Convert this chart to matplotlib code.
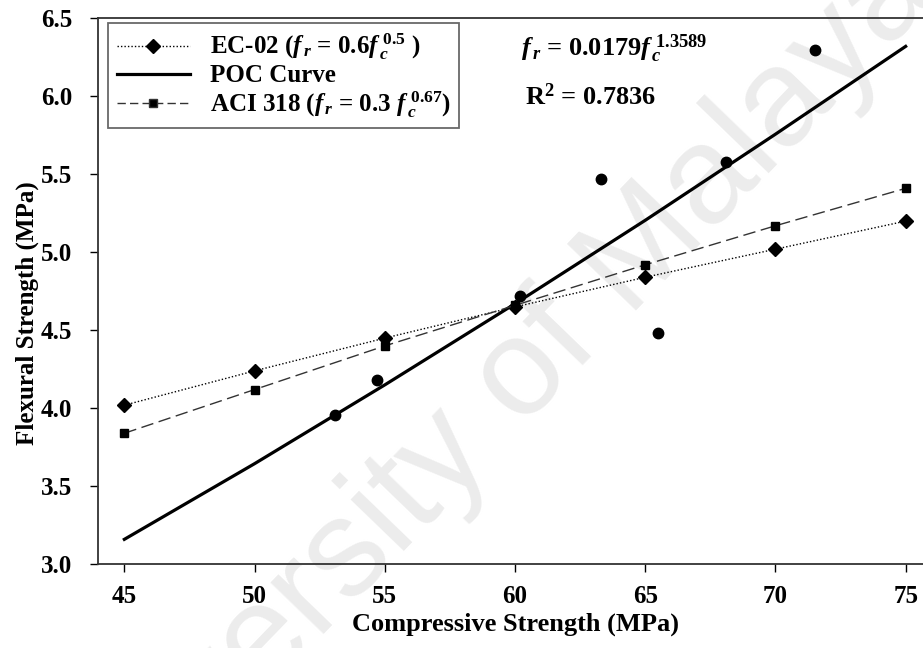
import matplotlib
matplotlib.use("Agg")
import matplotlib.pyplot as plt
from matplotlib.lines import Line2D

plt.rcParams['font.family'] = ['Liberation Serif', 'DejaVu Serif']
plt.rcParams['font.weight'] = 'bold'
plt.rcParams['mathtext.fontset'] = 'custom'
plt.rcParams['mathtext.rm'] = 'Liberation Serif:bold'
plt.rcParams['mathtext.it'] = 'Liberation Serif:bold:italic'
plt.rcParams['mathtext.bf'] = 'Liberation Serif:bold'

# ---- data ----
code_fc = [45, 50, 55, 60, 65, 70, 75]
ec02_fr = [4.02, 4.24, 4.45, 4.65, 4.84, 5.02, 5.20]
aci_fr = [3.84, 4.12, 4.40, 4.66, 4.92, 5.17, 5.41]
poc_curve_fr = [3.16, 3.645, 4.15, 4.67, 5.205, 5.757, 6.32]
test_fc = [53.1, 54.7, 60.2, 63.3, 65.5, 68.1, 71.5]
test_fr = [3.96, 4.18, 4.72, 5.47, 4.48, 5.58, 6.30]
x_ticks = [45, 50, 55, 60, 65, 70, 75]
y_ticks = [3.0, 3.5, 4.0, 4.5, 5.0, 5.5, 6.0, 6.5]

fig = plt.figure(figsize=(9.23, 6.48), dpi=100)

# watermark
fig.text(0.52, 0.35, "University of Malaya", family='Liberation Sans',
         fontsize=100, color='#ececec', rotation=46, ha='center', va='center',
         fontweight='normal', zorder=-5)

ax = fig.add_axes([98.3 / 923, 1 - 564.3 / 648, (931.7 - 98.3) / 923, (564.3 - 18.3) / 648])
ax.patch.set_alpha(0)

ax.plot(code_fc, ec02_fr, linestyle=(0, (1, 1.5)), color='black', linewidth=1.0,
        marker='D', markersize=7, zorder=3)
ax.plot(code_fc, poc_curve_fr, linestyle='-', color='black', linewidth=2.3, zorder=3)
ax.plot(code_fc, aci_fr, linestyle=(0, (9, 4)), color='#333333', linewidth=1.0,
        marker='s', markersize=6, markerfacecolor='black', markeredgecolor='black', zorder=3)
ax.plot(test_fc, test_fr, linestyle='none', marker='o', color='black', markersize=7.5, zorder=4)

ax.set_xlim(44, 76)
ax.set_ylim(3.0, 6.5)
ax.set_xticks(x_ticks)
ax.set_yticks(y_ticks)
ax.set_yticklabels([f"{v:.1f}" for v in y_ticks])
ax.tick_params(axis='both', direction='out', length=6, width=1.0, labelsize=18)
ax.tick_params(axis='x', pad=9)
ax.tick_params(axis='y', pad=13)
for lab in ax.get_xticklabels() + ax.get_yticklabels():
    lab.set_fontweight('bold')
for s in ['left', 'bottom', 'top']:
    ax.spines[s].set_linewidth(1.3)
    ax.spines[s].set_color('#333333')
ax.spines['right'].set_visible(False)

ax.set_xlabel('Compressive Strength (MPa)', fontsize=19, fontweight='bold', labelpad=3)
ax.set_ylabel('Flexural Strength (MPa)', fontsize=18, fontweight='bold')
ax.yaxis.set_label_coords(-0.071, 0.46)

handles = [
    Line2D([], [], linestyle=(0, (1, 1.5)), color='black', linewidth=1.0, marker='D', markersize=7),
    Line2D([], [], linestyle='-', color='black', linewidth=2.3),
    Line2D([], [], linestyle=(0, (6, 3)), color='#333333', linewidth=1.0, marker='s', markersize=6,
           markerfacecolor='black'),
]
labels = [
    r'EC-02 ($f_{\,r}$ = 0.6$f_{\,c}^{\;0.5}$ )',
    'POC Curve',
    r'ACI 318 ($f_{\,r}$ = 0.3 $f_{\,c}^{\;0.67}$)',
]
leg = ax.legend(handles, labels, loc='upper left', bbox_to_anchor=(0.012, 0.991),
                frameon=True, fancybox=False, edgecolor='#444444',
                handlelength=2.9, borderpad=0.35, labelspacing=0.08, handletextpad=0.8,
                borderaxespad=0.0,
                prop={'family': 'Liberation Serif', 'weight': 'bold', 'size': 18})
leg.get_frame().set_linewidth(1.3)

ax.text(0.507, 0.945, r'$f_{\,r}$ = 0.0179$f_{\,c}^{\;1.3589}$', transform=ax.transAxes,
        fontsize=19, fontweight='bold', va='center', ha='left')
ax.text(0.512, 0.857, r'R$^{2}$ = 0.7836', transform=ax.transAxes,
        fontsize=19, fontweight='bold', va='center', ha='left')

fig.savefig('out.png', dpi=100)
